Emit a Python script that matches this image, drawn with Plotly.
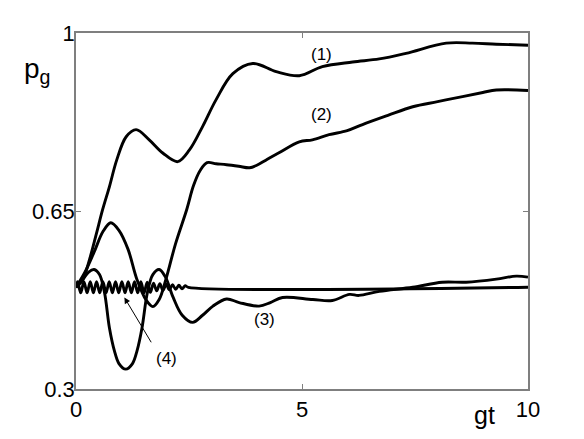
import plotly.graph_objects as go

# curve (1)
x1 = [0, 0.15, 0.3, 0.45, 0.59, 0.74, 0.9, 1.11, 1.33, 1.62, 1.92, 2.25, 2.51, 2.8, 3.1,
      3.47, 3.91, 4.43, 4.94, 5.45, 6.12, 6.71, 7.3, 8.19, 8.77, 9.3, 10]
y1 = [0.5, 0.515, 0.555, 0.605, 0.653, 0.698, 0.75, 0.796, 0.81, 0.79, 0.764, 0.747, 0.77,
      0.816, 0.869, 0.92, 0.94, 0.924, 0.916, 0.934, 0.943, 0.949, 0.96, 0.98, 0.98, 0.978, 0.976]

# curve (2)
x2 = [0, 0.2, 0.4, 0.6, 0.77, 0.95, 1.15, 1.35, 1.55, 1.7, 1.84, 1.99, 2.2, 2.45, 2.6, 2.75,
      2.9, 3.1, 3.33, 3.6, 3.84, 4.0, 4.2, 4.5, 4.94, 5.23, 5.6, 6.0, 6.34, 6.9, 7.45, 8.0,
      8.55, 9.0, 9.3, 10]
y2 = [0.5, 0.53, 0.569, 0.61, 0.627, 0.612, 0.575, 0.515, 0.475, 0.462, 0.476, 0.516, 0.585,
      0.653, 0.7, 0.73, 0.745, 0.743, 0.741, 0.738, 0.735, 0.74, 0.75, 0.765, 0.786, 0.79,
      0.8, 0.808, 0.82, 0.838, 0.855, 0.865, 0.875, 0.883, 0.888, 0.887]

# curve (3)
x3 = [0, 0.15, 0.28, 0.4, 0.52, 0.63, 0.74, 0.85, 0.95, 1.1, 1.25, 1.35, 1.46, 1.58, 1.7,
      1.84, 1.98, 2.15, 2.35, 2.58, 2.8, 3.03, 3.33, 3.61, 4.05, 4.3, 4.57, 5.24, 5.67, 6.05,
      6.26, 6.71, 7.45, 8.1, 8.63, 9.3, 9.74, 10]
y3 = [0.5, 0.515, 0.53, 0.535, 0.525, 0.49, 0.42, 0.375, 0.35, 0.339, 0.35, 0.375, 0.42,
      0.49, 0.525, 0.535, 0.52, 0.48, 0.445, 0.431, 0.445, 0.463, 0.477, 0.47, 0.463, 0.47,
      0.48, 0.476, 0.474, 0.486, 0.484, 0.492, 0.5, 0.51, 0.51, 0.516, 0.522, 0.52]

# curve (4): fast small oscillation about 0.5
x4 = [0, 0.035, 0.105, 0.175, 0.245, 0.315, 0.385, 0.455, 0.525, 0.595, 0.665, 0.735,
      0.805, 0.875, 0.945, 1.015, 1.085, 1.155, 1.225, 1.295, 1.365, 1.435, 1.505, 1.575,
      1.645, 1.715, 1.785, 1.855, 1.925, 1.995, 2.065, 2.135, 2.205, 2.275, 2.345, 2.415,
      2.485, 10]
y4 = [0.5, 0.511, 0.489, 0.511, 0.489, 0.511, 0.489, 0.511, 0.489, 0.511, 0.489, 0.511,
      0.489, 0.511, 0.489, 0.511, 0.489, 0.511, 0.489, 0.511, 0.489, 0.511, 0.489, 0.51,
      0.49, 0.508, 0.493, 0.507, 0.494, 0.506, 0.495, 0.505, 0.496, 0.504, 0.497, 0.503,
      0.5, 0.5]

x_ticks = [0, 5, 10]
x_tick_text = ["0", "5", "10"]
y_ticks = [0.3, 0.65, 1]
y_tick_text = ["0.3", "0.65", "1"]

FONT = "Liberation Sans, Arial, sans-serif"
AXIS_GRAY = "#7f7f7f"

fig = go.Figure()
for xs, ys in [(x1, y1), (x2, y2), (x3, y3), (x4, y4)]:
    fig.add_trace(
        go.Scatter(
            x=xs,
            y=ys,
            mode="lines",
            line=dict(color="black", width=2.9, shape="spline", smoothing=1.0),
            hoverinfo="skip",
        )
    )

axis_style = dict(
    showline=True,
    linecolor=AXIS_GRAY,
    linewidth=1.5,
    mirror="ticks",
    ticks="inside",
    ticklen=5,
    tickcolor=AXIS_GRAY,
    tickwidth=1,
    showgrid=False,
    zeroline=False,
    tickfont=dict(family=FONT, size=22, color="black"),
)
fig.update_xaxes(range=[0, 10], tickvals=x_ticks, ticktext=x_tick_text, **axis_style)
fig.update_yaxes(range=[0.3, 1], tickvals=y_ticks, ticktext=y_tick_text,
                 ticklabelstandoff=-5, **axis_style)

labels = [("(1)", 5.43, 0.957), ("(2)", 5.43, 0.839), ("(3)", 4.17, 0.437), ("(4)", 2.0, 0.359)]
for txt, lx, ly in labels:
    fig.add_annotation(
        x=lx, y=ly, text=txt, showarrow=False,
        font=dict(family=FONT, size=17, color="black"),
    )

# arrow pointing at curve (4)
fig.add_annotation(
    x=1.07, y=0.48, ax=1.73, ay=0.382, xref="x", yref="y", axref="x", ayref="y",
    text=" ", showarrow=True, arrowhead=2, arrowsize=1.2, arrowwidth=1, arrowcolor="black",
)

fig.add_annotation(
    x=-0.12, y=0.895, xref="paper", yref="paper", xanchor="left", yanchor="middle",
    text="p<sub>g</sub>", showarrow=False,
    font=dict(family=FONT, size=28, color="black"),
)
fig.add_annotation(
    x=0.903, y=-0.073, xref="paper", yref="paper", xanchor="center", yanchor="middle",
    text="gt", showarrow=False,
    font=dict(family=FONT, size=25, color="black"),
)

# page body has an 8px margin, so shift the plot area up/left to compensate
fig.update_layout(
    width=584,
    height=439,
    margin=dict(l=68, r=64, t=25, b=58),
    paper_bgcolor="white",
    plot_bgcolor="white",
    showlegend=False,
)

fig.write_html("out.html")
